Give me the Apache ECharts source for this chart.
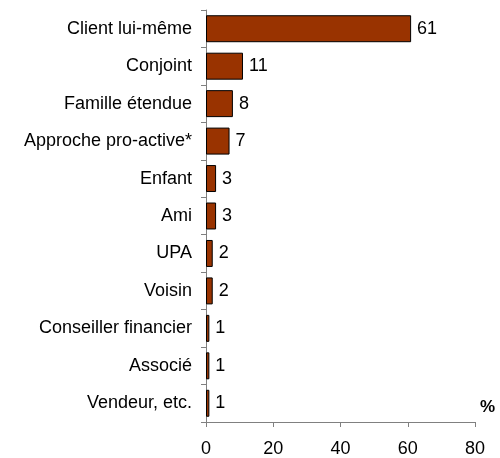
<!DOCTYPE html>
<html>
<head>
<meta charset="utf-8">
<script src="https://cdn.jsdelivr.net/npm/echarts@6/dist/echarts.min.js"></script>
<style>
  html, body { margin: 0; padding: 0; background: #fff; }
  #chart { width: 500px; height: 458px; }
</style>
</head>
<body>
<div id="chart"></div>
<script>
// categories top to bottom
var categories = ['Client lui-même', 'Conjoint', 'Famille étendue', 'Approche pro-active*', 'Enfant', 'Ami', 'UPA', 'Voisin', 'Conseiller financier', 'Associé', 'Vendeur, etc.']
var values = [61, 11, 8, 7, 3, 3, 2, 2, 1, 1, 1]
var xTicks = [0, 20, 40, 60, 80]

var chart = echarts.init(document.getElementById('chart'))
chart.setOption({
  animation: false,
  textStyle: { fontFamily: 'Liberation Sans, Arial, sans-serif' },
  grid: { left: 206, right: 25, top: 10, bottom: 35 },
  xAxis: {
    type: 'value',
    min: xTicks[0],
    max: xTicks[xTicks.length - 1],
    interval: 20,
    splitLine: { show: false },
    axisLine: { show: true, lineStyle: { color: '#808080', width: 1 } },
    axisTick: { show: true, length: 5, lineStyle: { color: '#808080' } },
    axisLabel: { color: '#000', fontSize: 18, margin: 18 }
  },
  yAxis: {
    type: 'category',
    inverse: true,
    data: categories,
    axisLine: { lineStyle: { color: '#808080', width: 1 } },
    axisTick: { show: true, length: 5, lineStyle: { color: '#808080' } },
    axisLabel: { color: '#000', fontSize: 18, margin: 14, padding: [3, 0, 0, 0] }
  },
  graphic: [{
    type: 'text',
    left: 480,
    top: 399,
    style: { text: '%', font: 'bold 17px Liberation Sans, Arial, sans-serif', fill: '#000' }
  }],
  series: [{
    type: 'bar',
    data: values,
    barCategoryGap: '28%',
    itemStyle: { color: '#993300', borderColor: '#000', borderWidth: 1 },
    label: { show: true, position: 'right', distance: 6, color: '#000', fontSize: 18 }
  }]
})
</script>
</body>
</html>
